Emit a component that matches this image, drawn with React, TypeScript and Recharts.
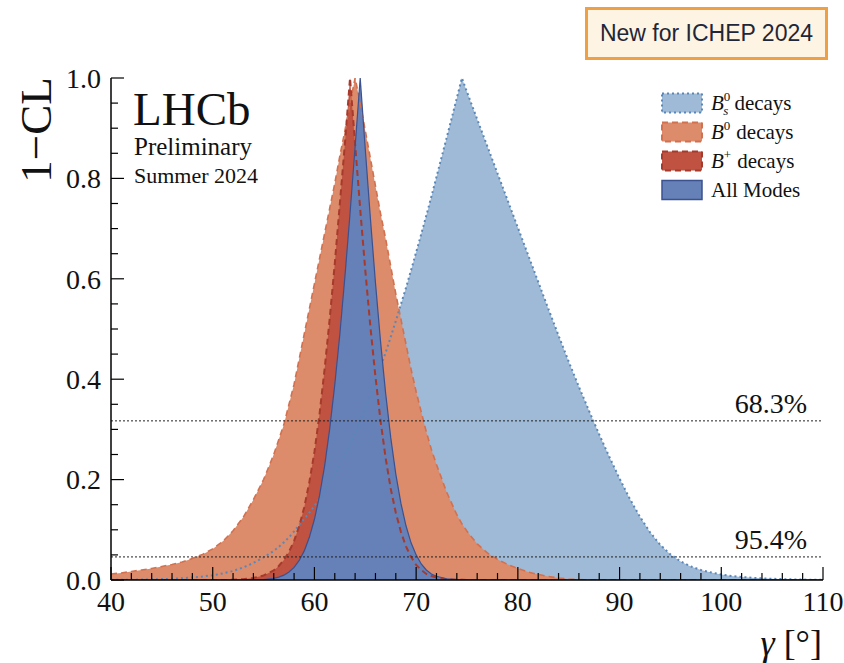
import React from 'react';
import { ComposedChart, Area, Line, XAxis, YAxis, ReferenceLine, Legend } from 'recharts';

// gamma grid (degrees), finer around the peaks
const GAMMA = [
  40, 41, 42, 43, 44, 45, 46, 47, 48, 49, 50, 51, 52, 53, 54, 55, 56,
  56.5, 57, 57.5, 58, 58.5, 59, 59.5, 60, 60.5, 61, 61.5, 62, 62.5, 63, 63.5, 64,
  64.5, 65, 65.5, 66, 66.5, 67, 67.5, 68, 68.5, 69, 69.5, 70, 70.5, 71, 71.5,
  72, 73, 74, 74.5,
  75, 76, 77, 78, 79, 80, 81, 82, 83, 84, 85, 86, 87, 88, 89, 90, 91, 92,
  93, 94, 95, 96, 97, 98, 99, 100, 101, 102, 103, 104, 105, 106, 107, 108, 109, 110,
];

// 1-CL, Bs0 decays
const BS = [
  0.0003, 0.0004, 0.0006, 0.0009, 0.0013, 0.0018, 0.0025, 0.0035, 0.005, 0.007, 0.0095, 0.013, 0.018, 0.025, 0.034, 0.045, 0.058,
  0.066, 0.075, 0.085, 0.097, 0.11, 0.122, 0.134, 0.148, 0.162, 0.178, 0.194, 0.211, 0.23, 0.25, 0.271, 0.294,
  0.317, 0.342, 0.368, 0.395, 0.424, 0.453, 0.484, 0.516, 0.549, 0.582, 0.617, 0.653, 0.689, 0.726, 0.764,
  0.803, 0.881, 0.96, 1.0,
  0.972, 0.918, 0.864, 0.81, 0.756, 0.702, 0.648, 0.594, 0.54, 0.487, 0.435, 0.385, 0.337, 0.29, 0.245, 0.202, 0.162, 0.126,
  0.095, 0.07, 0.051, 0.037, 0.027, 0.02, 0.015, 0.011, 0.008, 0.006, 0.0045, 0.0033, 0.0024, 0.0017, 0.0012, 0.0008, 0.0005, 0.0003,
];

// 1-CL, B0 decays
const B0 = [
  0.012, 0.014, 0.017, 0.02, 0.023, 0.027, 0.031, 0.036, 0.043, 0.051, 0.062, 0.077, 0.098, 0.125, 0.16, 0.2, 0.25,
  0.28, 0.31, 0.35, 0.39, 0.44, 0.49, 0.54, 0.59, 0.64, 0.69, 0.74, 0.79, 0.845, 0.895, 0.95, 1.0,
  0.95, 0.895, 0.84, 0.785, 0.73, 0.68, 0.625, 0.57, 0.52, 0.47, 0.42, 0.375, 0.335, 0.295, 0.26,
  0.23, 0.175, 0.13, 0.112,
  0.097, 0.072, 0.054, 0.041, 0.031, 0.023, 0.016, 0.011, 0.007, 0.004, 0.002, 0.001, 0, 0, 0, 0, 0, 0,
  0, 0, 0, 0, 0, 0, 0, 0, 0, 0, 0, 0, 0, 0, 0, 0, 0, 0,
];

// 1-CL, B+ decays
const BP = [
  0, 0, 0, 0, 0, 0, 0, 0, 0, 0, 0, 0, 0.0005, 0.0015, 0.004, 0.009, 0.019,
  0.028, 0.04, 0.056, 0.078, 0.107, 0.145, 0.195, 0.255, 0.33, 0.42, 0.52, 0.63, 0.75, 0.87, 1.0, 0.868,
  0.739, 0.617, 0.505, 0.405, 0.317, 0.243, 0.182, 0.134, 0.096, 0.067, 0.046, 0.03, 0.02, 0.012, 0.008,
  0.005, 0.0015, 0.0005, 0.0003,
  0, 0, 0, 0, 0, 0, 0, 0, 0, 0, 0, 0, 0, 0, 0, 0, 0, 0,
  0, 0, 0, 0, 0, 0, 0, 0, 0, 0, 0, 0, 0, 0, 0, 0, 0, 0,
];

// 1-CL, combination of all modes
const ALL = [
  0, 0, 0, 0, 0, 0, 0, 0, 0, 0, 0, 0, 0, 0, 0.0004, 0.001, 0.0034,
  0.0058, 0.0096, 0.016, 0.025, 0.039, 0.058, 0.085, 0.121, 0.168, 0.227, 0.301, 0.389, 0.49, 0.605, 0.73, 0.863,
  1.0, 0.858, 0.721, 0.592, 0.475, 0.372, 0.284, 0.211, 0.153, 0.108, 0.074, 0.05, 0.032, 0.02, 0.012,
  0.0074, 0.0025, 0.0008, 0.0004,
  0.0002, 0, 0, 0, 0, 0, 0, 0, 0, 0, 0, 0, 0, 0, 0, 0, 0, 0,
  0, 0, 0, 0, 0, 0, 0, 0, 0, 0, 0, 0, 0, 0, 0, 0, 0, 0,
];

const X_TICKS = [40, 42, 44, 46, 48, 50, 52, 54, 56, 58, 60, 62, 64, 66, 68, 70, 72, 74, 76, 78, 80, 82, 84, 86, 88, 90, 92, 94, 96, 98, 100, 102, 104, 106, 108, 110];
const X_MAJOR = [40, 50, 60, 70, 80, 90, 100, 110];
const Y_TICKS = [0, 0.05, 0.1, 0.15, 0.2, 0.25, 0.3, 0.35, 0.4, 0.45, 0.5, 0.55, 0.6, 0.65, 0.7, 0.75, 0.8, 0.85, 0.9, 0.95, 1];
const Y_MAJOR = [0, 0.2, 0.4, 0.6, 0.8, 1];

const CL_LINES = [
  { y: 0.317, label: '68.3%' },
  { y: 0.046, label: '95.4%' },
];

const SERIES = [
  { key: 'bs', fill: '#9fbad6', stroke: '#5a87b8', dash: '2 3', width: 2 },
  { key: 'b0', fill: '#dc8b6b', stroke: '#d27150', dash: '6 4', width: 1.6 },
  { key: 'bp', fill: '#c05241', stroke: '#a63a2c', dash: '6 4', width: 2 },
  { key: 'all', fill: '#6680b8', stroke: '#3b5190', dash: undefined, width: 1.2 },
];

const data = GAMMA.map((g, i) => ({ g, bs: BS[i], b0: B0[i], bp: BP[i], all: ALL[i] }));

const SERIF = '"Liberation Serif", "DejaVu Serif", "Times New Roman", serif';

const isMajorY = (v: number) => Y_MAJOR.some(m => Math.abs(m - v) < 1e-6);

function BottomTick({ x, y, payload }: any) {
  const major = X_MAJOR.includes(payload.value);
  return (
    <g>
      <line x1={x} x2={x} y1={y} y2={y - (major ? 13 : 7)} stroke="#000" strokeWidth={1.2} />
      {major && (
        <text x={x} y={y + 31} textAnchor="middle" fontSize={28} fontFamily={SERIF} fill="#111">
          {payload.value}
        </text>
      )}
    </g>
  );
}

function TopTick({ x, y, payload }: any) {
  const major = X_MAJOR.includes(payload.value);
  return <line x1={x} x2={x} y1={y} y2={y + (major ? 13 : 7)} stroke="#000" strokeWidth={1.2} />;
}

function LeftTick({ x, y, payload }: any) {
  const major = isMajorY(payload.value);
  return (
    <g>
      <line x1={x} x2={x + (major ? 13 : 7)} y1={y} y2={y} stroke="#000" strokeWidth={1.2} />
      {major && (
        <text x={x - 10} y={y} dy="0.35em" textAnchor="end" fontSize={28} fontFamily={SERIF} fill="#111">
          {payload.value.toFixed(1)}
        </text>
      )}
    </g>
  );
}

function RightTick({ x, y, payload }: any) {
  const major = isMajorY(payload.value);
  return <line x1={x} x2={x - (major ? 13 : 7)} y1={y} y2={y} stroke="#000" strokeWidth={1.2} />;
}

function CLLabel({ viewBox, value }: any) {
  return (
    <text x={viewBox.x + viewBox.width - 16} y={viewBox.y - 8} textAnchor="end" fontSize={28} fontFamily={SERIF} fill="#111">
      {value}
    </text>
  );
}

function LegendLabel({ k, x, y }: { k: string; x: number; y: number }) {
  const common = { x, y, fontSize: 21, fontFamily: SERIF, fill: '#111' };
  if (k === 'all') return <text {...common}>All Modes</text>;
  if (k === 'bs')
    return (
      <text {...common}>
        <tspan fontStyle="italic">B</tspan>
        <tspan fontSize={13} dy={-9}>0</tspan>
        <tspan fontSize={13} fontStyle="italic" dx={-7} dy={14}>s</tspan>
        <tspan dx={6} dy={-5}>decays</tspan>
      </text>
    );
  return (
    <text {...common}>
      <tspan fontStyle="italic">B</tspan>
      <tspan fontSize={13} dy={-9}>{k === 'b0' ? '0' : '+'}</tspan>
      <tspan dx={6} dy={9}>decays</tspan>
    </text>
  );
}

function LegendBox() {
  return (
    <svg width={180} height={118}>
      {SERIES.map((s, i) => {
        const cy = 15 + i * 29;
        return (
          <g key={s.key}>
            <rect x={8} y={cy - 9.5} width={40} height={19} fill={s.fill} stroke={s.stroke}
              strokeWidth={s.dash ? 2 : 1.5} strokeDasharray={s.dash} />
            <LegendLabel k={s.key} x={57} y={cy + 7} />
          </g>
        );
      })}
    </svg>
  );
}

export default function App() {
  return (
    <div style={{ position: 'absolute', left: 0, top: 0, width: 844, height: 663, background: '#fff' }}>
      <ComposedChart width={844} height={663} data={data} margin={{ top: 78, right: 21, bottom: 43, left: 51 }}>
        <XAxis dataKey="g" type="number" domain={[40, 110]} allowDataOverflow ticks={X_TICKS} interval={0}
          height={40} tickSize={0} tickMargin={0} tickLine={false}
          axisLine={{ stroke: '#000', strokeWidth: 1.5 }} tick={(p: any) => <BottomTick {...p} />} />
        <XAxis xAxisId="top" orientation="top" type="number" domain={[40, 110]} allowDataOverflow ticks={X_TICKS}
          interval={0} height={0} tickSize={0} tickMargin={0} tickLine={false}
          axisLine={{ stroke: '#000', strokeWidth: 1.5 }} tick={(p: any) => <TopTick {...p} />} />
        <YAxis type="number" domain={[0, 1]} allowDataOverflow ticks={Y_TICKS} interval={0} width={60}
          tickSize={0} tickMargin={0} tickLine={false}
          axisLine={{ stroke: '#000', strokeWidth: 1.5 }} tick={(p: any) => <LeftTick {...p} />} />
        <YAxis yAxisId="right" orientation="right" type="number" domain={[0, 1]} allowDataOverflow ticks={Y_TICKS}
          interval={0} width={0} tickSize={0} tickMargin={0} tickLine={false}
          axisLine={{ stroke: '#000', strokeWidth: 1.5 }} tick={(p: any) => <RightTick {...p} />} />

        {SERIES.map(s => (
          <Area key={`a-${s.key}`} type="linear" dataKey={s.key} fill={s.fill} fillOpacity={1} stroke="none"
            dot={false} activeDot={false} legendType="none" isAnimationActive={false} />
        ))}
        {SERIES.map(s => (
          <Line key={`l-${s.key}`} type="linear" dataKey={s.key} stroke={s.stroke} strokeWidth={s.width}
            strokeDasharray={s.dash} dot={false} activeDot={false} legendType="none" isAnimationActive={false} />
        ))}

        {CL_LINES.map(c => (
          <ReferenceLine key={c.label} y={c.y} stroke="#222" strokeWidth={1} strokeDasharray="2 2"
            label={(p: any) => <CLLabel {...p} value={c.label} />} />
        ))}

        <Legend layout="vertical" align="center" verticalAlign="middle" content={() => <LegendBox />}
          wrapperStyle={{ position: 'absolute', left: 654, top: 88, width: 180, height: 118 }} />
      </ComposedChart>

      <svg width={844} height={663} style={{ position: 'absolute', left: 0, top: 0, pointerEvents: 'none' }}>
        <text x={133} y={125} fontSize={47} fontFamily={SERIF} fill="#111">LHCb</text>
        <text x={134} y={155} fontSize={25} fontFamily={SERIF} fill="#111">Preliminary</text>
        <text x={134} y={183} fontSize={22} fontFamily={SERIF} fill="#111">Summer 2024</text>
        <text x={51} y={130} transform="rotate(-90 51 130)" textAnchor="middle" fontSize={45} fontFamily={SERIF} fill="#111">
          1−CL
        </text>
        <text x={822} y={655} textAnchor="end" fontSize={36} fontFamily={SERIF} fill="#111">
          <tspan fontStyle="italic">γ</tspan> [°]
        </text>
      </svg>

      <div style={{
        position: 'absolute', left: 585, top: 7, width: 243, height: 53, boxSizing: 'border-box',
        border: '3px solid #f0a044', background: '#fdf4e3', display: 'flex', alignItems: 'center',
        justifyContent: 'center', fontFamily: '"Liberation Sans", Arial, sans-serif', fontSize: 23, color: '#1f2637',
      }}>
        New for ICHEP 2024
      </div>
    </div>
  );
}
